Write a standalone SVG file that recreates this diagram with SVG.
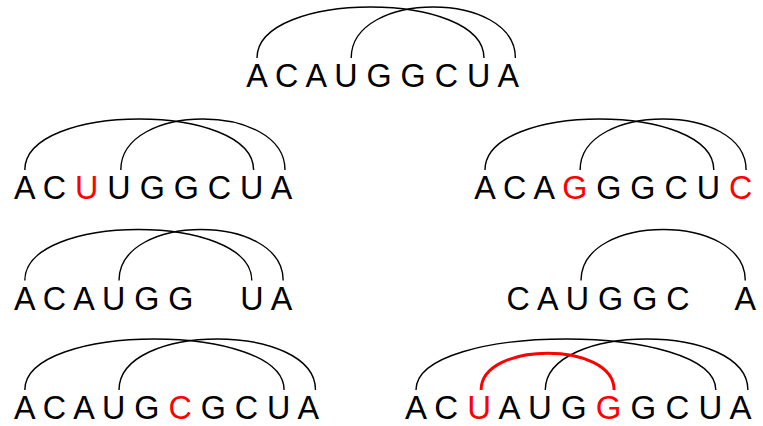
<svg xmlns="http://www.w3.org/2000/svg" width="763" height="426" viewBox="0 0 763 426">
<style>
text{font-family:"Liberation Sans",Arial,sans-serif;font-size:32.3px;fill:#000}
.red{fill:#ff0000}
.arc{fill:none;stroke:#000;stroke-width:1.4}
.arcr{fill:none;stroke:#ff0000;stroke-width:3}
</style>
<rect width="763" height="426" fill="#fff"/>
<g id="connectors">
<path class="arc" d="M257 58 C257 -10 484 -10 484 58"/>
<path class="arc" d="M351.2 58 C351.2 -10 515.4 -10 515.4 58"/>
<path class="arc" d="M24.8 170 C24.8 102 253.6 102 253.6 170"/>
<path class="arc" d="M120.8 170 C120.8 102 285 102 285 170"/>
<path class="arc" d="M485 170 C485 102 713.8 102 713.8 170"/>
<path class="arc" d="M580.1 170 C580.1 102 746.1 102 746.1 170"/>
<path class="arc" d="M24.8 280.5 C24.8 212.5 251.8 212.5 251.8 280.5"/>
<path class="arc" d="M119 280.5 C119 212.5 283.2 212.5 283.2 280.5"/>
<path class="arc" d="M581 280.5 C581 212.5 745.3 212.5 745.3 280.5"/>
<path class="arc" d="M24.8 390 C24.8 322 284.1 322 284.1 390"/>
<path class="arc" d="M119 390 C119 322 315.5 322 315.5 390"/>
<path class="arc" d="M416 390 C416 322 715.8 322 715.8 390"/>
<path class="arc" d="M545.3 390 C545.3 322 747.9 322 747.9 390"/>
<path class="arcr" d="M481.1 390 C481.1 341 614.1 341 614.1 390"/>
</g>
<g id="seq1"><text x="246.2" y="87">A C A U G G C U A</text></g>
<g id="seq2"><text x="14" y="199">A C <tspan class="red">U</tspan> U G G C U A</text></g>
<g id="seq3"><text x="474.2" y="199">A C A <tspan class="red">G</tspan> G G C U <tspan class="red">C</tspan></text></g>
<g id="seq4"><text x="14" y="309.5">A C A U G G</text><text x="240.2" y="309.5">U A</text></g>
<g id="seq5"><text x="506.5" y="309.5">C A U G G C</text><text x="734.5" y="309.5">A</text></g>
<g id="seq6"><text x="14" y="419">A C A U G <tspan class="red">C</tspan> G C U A</text></g>
<g id="seq7"><text x="405" y="419" style="font-size:33px">A C <tspan class="red">U</tspan> A U G <tspan class="red">G</tspan> G C U A</text></g>
</svg>
